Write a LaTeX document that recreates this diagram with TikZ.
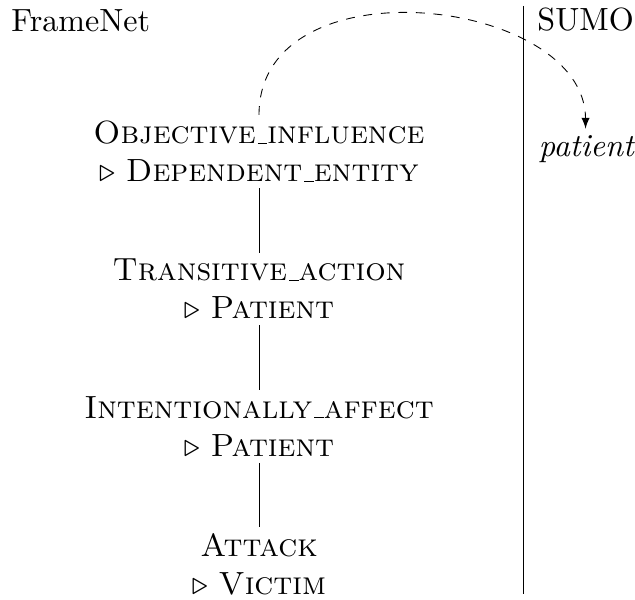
\documentclass[tikz,border=0pt]{standalone}
% underscore drawn as a short rule, as in the classic OT1 text fonts
\newcommand{\lowbar}{\leavevmode\kern.06em\vbox{\hrule width.3em}}
\begin{document}
\begin{tikzpicture}[x=0.3413pt,y=-0.3413pt,
  every node/.style={font=\fontsize{10.95}{12.97}\selectfont},
  every path/.style={line width=0.3pt},
  heading/.style={inner sep=0pt},
  concept/.style={align=center,inner sep=2pt},
  target/.style={inner sep=2pt},
  isa/.style={draw},
  mapping/.style={dashed,-latex}]
\useasboundingbox (0,0) rectangle (635,599);

% column headings and the divider between the two resources
\node[heading,anchor=base west] (fn) at (11,32) {FrameNet};
\node[heading,anchor=base west] (sumo) at (537,31) {SUMO};
\coordinate (divtop) at (523,6);
\coordinate (divbot) at (523,594);
\draw (divtop) -- (divbot);

% frame hierarchy with the inherited frame element
\node[concept] (obj) at (259,151.5)
  {\textsc{Objective\lowbar influence}\\$\triangleright$ \textsc{Dependent\lowbar entity}};
\node[concept] (trans) at (259,289)
  {\textsc{Transitive\lowbar action}\\$\triangleright$ \textsc{Patient}};
\node[concept] (intent) at (259,426.5)
  {\textsc{Intentionally\lowbar affect}\\$\triangleright$ \textsc{Patient}};
\node[concept] (attack) at (259,564)
  {\textsc{Attack}\\$\triangleright$ \textsc{Victim}};

\draw[isa] (obj) -- (trans);
\draw[isa] (trans) -- (intent);
\draw[isa] (intent) -- (attack);

% SUMO relation
\node[target,anchor=base] (pat) at (587,156) {\textit{patient}};

\draw[mapping] (obj.north) .. controls +(0,-155) and +(0,-132) .. ([xshift=-0.5pt]pat.north);
\end{tikzpicture}
\end{document}
